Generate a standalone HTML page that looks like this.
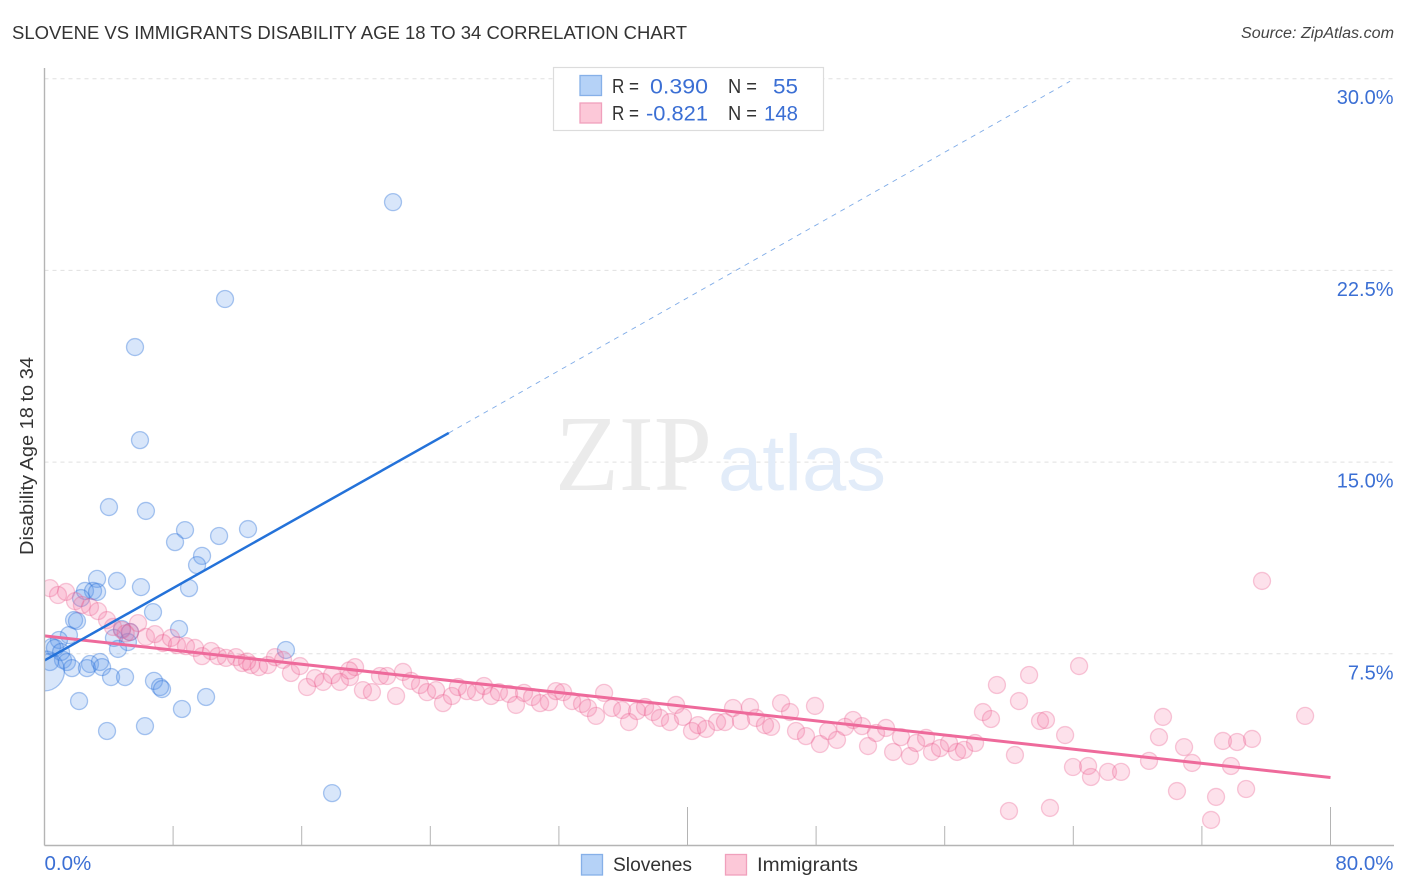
<!DOCTYPE html>
<html lang="en">
<head>
<meta charset="utf-8">
<title>Slovene vs Immigrants Disability Age 18 to 34 Correlation Chart</title>
<style>
html,body{margin:0;padding:0;background:#fff;width:1406px;height:892px;overflow:hidden}
svg{display:block}
text{font-family:"Liberation Sans",sans-serif}
</style>
</head>
<body>
<svg id="chart" xmlns="http://www.w3.org/2000/svg" width="1406" height="892" viewBox="0 0 1406 892">
  <defs><clipPath id="plot-clip"><rect x="44.5" y="60" width="1350" height="786"/></clipPath></defs>
  <text x="12" y="39" font-size="18.5" fill="#333" textLength="675" lengthAdjust="spacingAndGlyphs">SLOVENE VS IMMIGRANTS DISABILITY AGE 18 TO 34 CORRELATION CHART</text>
  <text x="1241" y="38" font-size="15.5" font-style="italic" fill="#444" textLength="153" lengthAdjust="spacingAndGlyphs">Source: ZipAtlas.com</text>
  <g id="grid"></g>
  <g>
    <text x="555" y="490" font-size="108" fill="#ebebeb" textLength="157" lengthAdjust="spacingAndGlyphs" style="font-family:'Liberation Serif',serif">ZIP</text>
    <text x="718" y="490" font-size="79" fill="#e2ecf9" textLength="168" lengthAdjust="spacingAndGlyphs">atlas</text>
  </g>
  <g id="points" clip-path="url(#plot-clip)"></g>
  <g id="trends"></g>
  <g id="axes"></g>
  <text transform="translate(33,456) rotate(-90)" font-size="18.5" fill="#333" text-anchor="middle" textLength="198" lengthAdjust="spacingAndGlyphs">Disability Age 18 to 34</text>

  <g>
    <rect x="553.5" y="67.5" width="270" height="63" fill="#fff" stroke="#dcdcdc" stroke-width="1.2"/>
    <rect x="580" y="75.5" width="21.5" height="20" fill="#b5d2f7" stroke="#86b0e8" stroke-width="1.3"/>
    <rect x="580" y="103" width="21.5" height="20" fill="#fcc8d8" stroke="#f0a0bc" stroke-width="1.3"/>
    <g font-size="20" fill="#333">
      <text x="612" y="93" textLength="27" lengthAdjust="spacingAndGlyphs">R =</text>
      <text x="728" y="93" textLength="29" lengthAdjust="spacingAndGlyphs">N =</text>
      <text x="612" y="120" textLength="27" lengthAdjust="spacingAndGlyphs">R =</text>
      <text x="728" y="120" textLength="29" lengthAdjust="spacingAndGlyphs">N =</text>
    </g>
    <g font-size="21.5" fill="#3b6fd4">
      <text x="650" y="93.5" textLength="58" lengthAdjust="spacingAndGlyphs">0.390</text>
      <text x="773" y="93.5" textLength="25" lengthAdjust="spacingAndGlyphs">55</text>
      <text x="646" y="120.5" textLength="62" lengthAdjust="spacingAndGlyphs">-0.821</text>
      <text x="764" y="120.5" textLength="34" lengthAdjust="spacingAndGlyphs">148</text>
    </g>
  </g>

  <g>
    <rect x="581.5" y="854.5" width="21" height="20.5" fill="#b5d2f7" stroke="#86b0e8" stroke-width="1.3"/>
    <text x="613" y="871" font-size="19.5" fill="#333" textLength="79" lengthAdjust="spacingAndGlyphs">Slovenes</text>
    <rect x="725.5" y="854.5" width="21" height="20.5" fill="#fcc8d8" stroke="#f0a0bc" stroke-width="1.3"/>
    <text x="757" y="871" font-size="19.5" fill="#333" textLength="101" lengthAdjust="spacingAndGlyphs">Immigrants</text>
  </g>
</svg>
<script>
const xTickValues = [0, 8, 16, 24, 32, 40, 48, 56, 64, 72, 80];
const xMajorTicks = [40, 80];
const xTickLabels = ['0.0%', '80.0%'];
const xLabelValues = [0, 80];
const yTickValues = [7.5, 15, 22.5, 30];
const yTickLabels = ['7.5%', '15.0%', '22.5%', '30.0%'];

const sloveneX = [21.68,11.23,5.63,5.94,4.01,6.31,8.74,8.12,10.86,12.66,9.80,9.49,8.99,3.27,4.51,6.00,2.52,3.02,3.27,2.27,6.75,1.84,2.02,8.37,1.52,0.90,4.82,5.32,4.32,5.19,4.57,0.47,0.65,1.03,1.15,1.40,1.71,0.34,2.83,2.64,3.45,3.58,4.14,5.01,6.81,7.19,7.31,2.15,10.05,8.55,3.89,6.25,15.02,17.89,0];
const sloveneY = [25.17,21.38,19.50,15.86,13.24,13.09,12.34,11.87,12.11,12.38,11.33,10.97,10.07,10.43,10.35,10.11,9.96,9.96,9.92,9.68,9.13,8.82,8.78,8.47,8.23,8.04,8.47,8.35,8.12,7.96,7.69,7.77,7.73,7.57,7.26,7.18,6.94,7.18,7.10,6.94,7.18,6.98,6.59,6.59,6.44,6.20,6.12,5.65,5.81,5.34,4.48,4.67,7.65,2.05,6.83];
const sloveneLargeIndex = 54;

const immigrantX = [0.34,0.84,1.34,1.90,2.33,2.83,3.33,3.89,4.26,4.82,5.32,5.82,6.31,6.87,7.37,7.87,8.24,8.80,9.36,9.80,10.36,10.79,11.29,11.91,12.29,12.85,13.34,13.90,14.34,14.84,15.33,15.89,16.33,16.83,17.33,17.89,18.38,19.32,19.00,19.81,20.37,20.87,21.31,21.87,22.30,22.80,23.36,23.80,24.36,24.79,25.35,25.72,26.28,26.84,27.34,27.78,28.27,28.90,29.33,29.83,30.33,30.83,31.38,31.82,32.26,32.82,33.44,33.81,34.31,34.81,35.30,35.93,36.36,36.86,37.36,37.85,38.29,38.91,39.29,39.72,40.28,40.65,41.15,41.84,42.33,42.83,43.33,43.89,44.26,44.82,45.20,45.82,46.38,46.75,47.37,47.93,48.24,48.74,49.30,49.80,50.30,50.86,51.23,51.73,52.35,52.79,53.28,53.84,54.22,54.84,55.21,55.71,56.27,56.77,57.20,57.89,58.38,58.88,59.25,60.37,60.62,61.25,60.00,61.93,62.30,63.49,64.36,63.98,64.92,65.10,66.16,66.97,62.55,69.58,69.33,70.89,68.71,71.39,70.45,72.88,72.57,73.31,74.19,75.12,73.81,74.75,78.42,75.74,5.05,12.60,18.95];
const immigrantY = [10.07,9.80,9.92,9.56,9.41,9.33,9.17,8.82,8.55,8.43,8.35,8.70,8.16,8.27,7.92,8.12,7.84,7.80,7.73,7.41,7.61,7.41,7.34,7.37,7.14,7.06,6.98,7.06,7.37,7.26,6.75,7.02,6.20,6.55,6.40,6.67,6.40,6.98,6.59,6.08,6.00,6.63,6.63,5.85,6.79,6.44,6.28,6.00,6.08,5.57,5.85,6.20,6.04,6.00,6.24,5.85,6.00,5.93,5.50,5.97,5.81,5.57,5.61,6.04,6.00,5.65,5.54,5.38,5.07,5.97,5.38,5.30,4.83,5.26,5.42,5.22,4.99,4.83,5.50,5.03,4.48,4.71,4.56,4.83,4.83,5.38,4.87,5.42,4.99,4.71,4.64,5.57,5.22,4.48,4.28,5.46,3.97,4.48,4.13,4.64,4.91,4.67,3.89,4.40,4.60,3.66,4.24,3.50,4.01,4.21,3.66,3.81,4.01,3.66,3.74,4.01,5.22,4.95,6.28,3.54,5.65,6.67,1.35,4.87,4.91,4.32,7.02,3.07,3.11,2.68,2.88,2.88,1.47,5.03,4.24,3.85,3.31,3.23,2.13,1.90,1.00,4.09,4.05,4.17,3.11,2.21,5.07,10.35,8.30,7.20,6.85];

const sloveneTrendSolidX = [0, 25.15];
const sloveneTrendSolidY = [7.24, 16.14];
const sloveneTrendDashedX = [25.15, 63.8];
const sloveneTrendDashedY = [16.14, 29.9];
const immigrantTrendX = [0, 80];
const immigrantTrendY = [8.2, 2.66];

const SVG_NS = 'http://www.w3.org/2000/svg';
const plotLeft = 44.5, plotRight = 1394, plotBottom = 845.5, plotTop = 68;
const xScale = v => plotLeft + v * 16.075;
const yScale = v => plotBottom - v * 25.56;

function make(parent, tag, props, text) {
  const el = document.createElementNS(SVG_NS, tag);
  for (const k in props) el.setAttribute(k, props[k]);
  if (text !== undefined) el.textContent = text;
  parent.appendChild(el);
  return el;
}

const gridG = document.getElementById('grid');
const axesG = document.getElementById('axes');
const pointsG = document.getElementById('points');
const trendsG = document.getElementById('trends');

yTickValues.forEach((v, i) => {
  const line = make(gridG, 'line', {x1: plotLeft, x2: plotRight, y1: yScale(v), y2: yScale(v), stroke: '#e0e0e0', 'stroke-width': 1, 'stroke-dasharray': '4 4'});
  
  
  const label = make(axesG, 'text', {x: 1393.5, y: yScale(v) + 25.5, 'font-size': 20, fill: '#3b6fd4', 'text-anchor': 'end'}, yTickLabels[i]);
  
  
});

const yAxis = make(axesG, 'line', {x1: plotLeft, x2: plotLeft, y1: plotTop, y2: plotBottom, stroke: '#b4b4b4', 'stroke-width': 1.4});


const xAxis = make(axesG, 'line', {x1: plotLeft, x2: plotRight, y1: plotBottom, y2: plotBottom, stroke: '#b4b4b4', 'stroke-width': 1.4});



xTickValues.forEach(v => {
  const top = xMajorTicks.includes(v) ? plotBottom - 38.5 : plotBottom - 19.5;
  const tick = make(axesG, 'line', {x1: xScale(v), x2: xScale(v), y1: top, y2: plotBottom, stroke: '#b4b4b4', 'stroke-width': 1});
  
  
});

xLabelValues.forEach((v, i) => {
  const anchor = i === 0 ? 'start' : 'end';
  const px = i === 0 ? xScale(v) : plotRight - 0.5;
  const label = make(axesG, 'text', {x: px, y: 870, 'font-size': 20.5, fill: '#3b6fd4', 'text-anchor': anchor}, xTickLabels[i]);
  
  
});

sloveneX.forEach((x, i) => {
  const c = make(pointsG, 'circle', {cx: xScale(x), cy: yScale(sloveneY[i]), r: i === sloveneLargeIndex ? 20 : 8.5, fill: 'rgba(92,152,236,0.24)', stroke: 'rgba(40,110,215,0.38)', 'stroke-width': 1.3});
  
  
});

immigrantX.forEach((x, i) => {
  const c = make(pointsG, 'circle', {cx: xScale(x), cy: yScale(immigrantY[i]), r: 8.5, fill: 'rgba(245,120,165,0.22)', stroke: 'rgba(232,90,140,0.32)', 'stroke-width': 1.3});
  
  
});

const immLine = make(trendsG, 'line', {x1: xScale(immigrantTrendX[0]), y1: yScale(immigrantTrendY[0]), x2: xScale(immigrantTrendX[1]), y2: yScale(immigrantTrendY[1]), stroke: '#ee6a9b', 'stroke-width': 3});


const sloDash = make(trendsG, 'line', {x1: xScale(sloveneTrendDashedX[0]), y1: yScale(sloveneTrendDashedY[0]), x2: xScale(sloveneTrendDashedX[1]), y2: yScale(sloveneTrendDashedY[1]), stroke: '#2a74d8', 'stroke-width': 0.9, 'stroke-dasharray': '5 5', opacity: 0.6});


const sloLine = make(trendsG, 'line', {x1: xScale(sloveneTrendSolidX[0]), y1: yScale(sloveneTrendSolidY[0]), x2: xScale(sloveneTrendSolidX[1]), y2: yScale(sloveneTrendSolidY[1]), stroke: '#2472d9', 'stroke-width': 2.5});


</script>
</body>
</html>
